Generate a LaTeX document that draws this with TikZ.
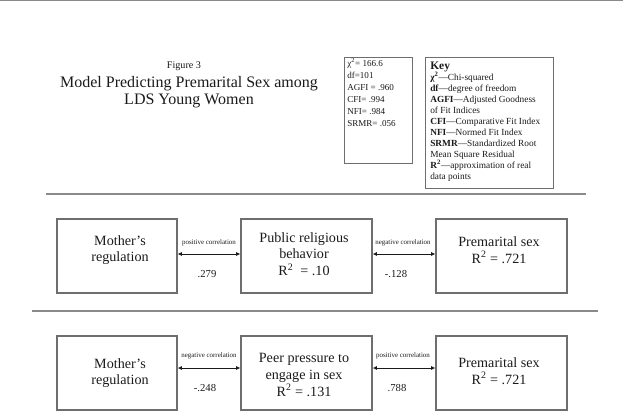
\documentclass[tikz,border=0pt]{standalone}
\usepackage{fontspec}
\setmainfont{Liberation Serif}
\usetikzlibrary{arrows.meta}
\definecolor{rulegray}{HTML}{8A8A8A}
\definecolor{boxgray}{HTML}{6E6E6E}
\definecolor{ink}{HTML}{1A1A1A}
\tikzset{
  varbox/.style={draw=boxgray, line width=0.9pt, minimum width=#1, inner sep=0pt},
  boxtext/.style={align=center, text=ink, font=\fontsize{10.6}{12.4}\selectfont, inner sep=0pt},
  corrlabel/.style={text=ink, font=\fontsize{5.2}{5.5}\selectfont, inner sep=0pt},
  vallabel/.style={text=ink, font=\fontsize{8}{9}\selectfont, inner sep=0pt},
  sep/.style={draw=rulegray, line width=0.9pt},
  link/.style={draw=ink, line width=0.6pt, {Latex[length=3.2pt,width=3pt]}-{Latex[length=3.2pt,width=3pt]}},
  infobox/.style={draw=boxgray, line width=0.8pt, inner sep=0pt}
}
\begin{document}
\begin{tikzpicture}[x=0.75pt,y=-0.75pt]
\useasboundingbox (0,0) rectangle (623,420);
% top border
\coordinate (tl) at (0,0.8);
\coordinate (tr) at (623,0.8);
\draw[sep] (tl) -- (tr);
% title
\node[inner sep=0pt, text=ink, font=\fontsize{7.6}{9}\selectfont] (fig) at (184,66) {Figure 3};
\node[inner sep=0pt, align=center, text=ink, font=\fontsize{12}{13.2}\selectfont] (title) at (189,92) {Model Predicting Premarital Sex among\\LDS Young Women};
% stats box
\node[infobox, minimum width=51pt, minimum height=79.5pt, anchor=north west] (stats) at (344,57) {};
\node[inner sep=0pt, anchor=north west, align=left, text=ink, font=\fontsize{6.8}{9}\selectfont] (statstext) at (347,58) {χ\textsuperscript{2}= 166.6\\df=101\\AGFI = .960\\CFI= .994\\NFI= .984\\SRMR= .056};
% key box
\node[infobox, minimum width=96pt, minimum height=98pt, anchor=north west] (key) at (425,57) {};
\node[inner sep=0pt, anchor=north west, align=left, text=ink, font=\fontsize{7}{8.2}\selectfont] (keytext) at (430,62) {{\fontsize{8.6}{9}\selectfont\bfseries Key}\\\textbf{χ\textsuperscript{2}}—Chi-squared\\\textbf{df}—degree of freedom\\\textbf{AGFI}—Adjusted Goodness\\of Fit Indices\\\textbf{CFI}—Comparative Fit Index\\\textbf{NFI}—Normed Fit Index\\\textbf{SRMR}—Standardized Root\\Mean Square Residual\\\textbf{R\textsuperscript{2}}—approximation of real\\data points};
% separators
\coordinate (s1a) at (46,194);
\coordinate (s1b) at (586,194);
\coordinate (s2a) at (32,311);
\coordinate (s2b) at (598,311);
\draw[sep] (s1a) -- (s1b);
\draw[sep] (s2a) -- (s2b);
% row 1 boxes
\node[varbox=90pt, minimum height=55.5pt] (a1) at (117,256) {};
\node[varbox=98.25pt, minimum height=55.5pt] (a2) at (306.5,256) {};
\node[varbox=98.25pt, minimum height=55.5pt] (a3) at (501.5,256) {};
\node[boxtext] (ta1) at (120,250) {Mother’s\\regulation};
\node[boxtext] (ta2) at (304,254) {Public religious\\behavior\\R\textsuperscript{2}\ \ = .10};
\node[boxtext] (ta3) at (499,250) {Premarital sex\\R\textsuperscript{2} = .721};
\coordinate (ya) at (0,254);
\draw[link] (a1.east |- ya) -- (a2.west |- ya);
\draw[link] (a2.east |- ya) -- (a3.west |- ya);
\node[corrlabel] (ca1) at (209,243) {positive correlation};
\node[corrlabel] (ca2) at (403,243) {negative correlation};
\node[vallabel] (va1) at (207,274) {.279};
\node[vallabel] (va2) at (396,274) {-.128};
% row 2 boxes
\node[varbox=90pt, minimum height=55.5pt] (b1) at (117,373) {};
\node[varbox=98.25pt, minimum height=55.5pt] (b2) at (306.5,373) {};
\node[varbox=98.25pt, minimum height=55.5pt] (b3) at (501.5,373) {};
\node[boxtext] (tb1) at (120,373) {Mother’s\\regulation};
\node[boxtext] (tb2) at (304,375) {Peer pressure to\\engage in sex\\R\textsuperscript{2} = .131};
\node[boxtext] (tb3) at (499,371) {Premarital sex\\R\textsuperscript{2} = .721};
\coordinate (yb) at (0,368);
\draw[link] (b1.east |- yb) -- (b2.west |- yb);
\draw[link] (b2.east |- yb) -- (b3.west |- yb);
\node[corrlabel] (cb1) at (209,356) {negative correlation};
\node[corrlabel] (cb2) at (403,356) {positive correlation};
\node[vallabel] (vb1) at (205,388) {-.248};
\node[vallabel] (vb2) at (397,388) {.788};
\end{tikzpicture}
\end{document}
